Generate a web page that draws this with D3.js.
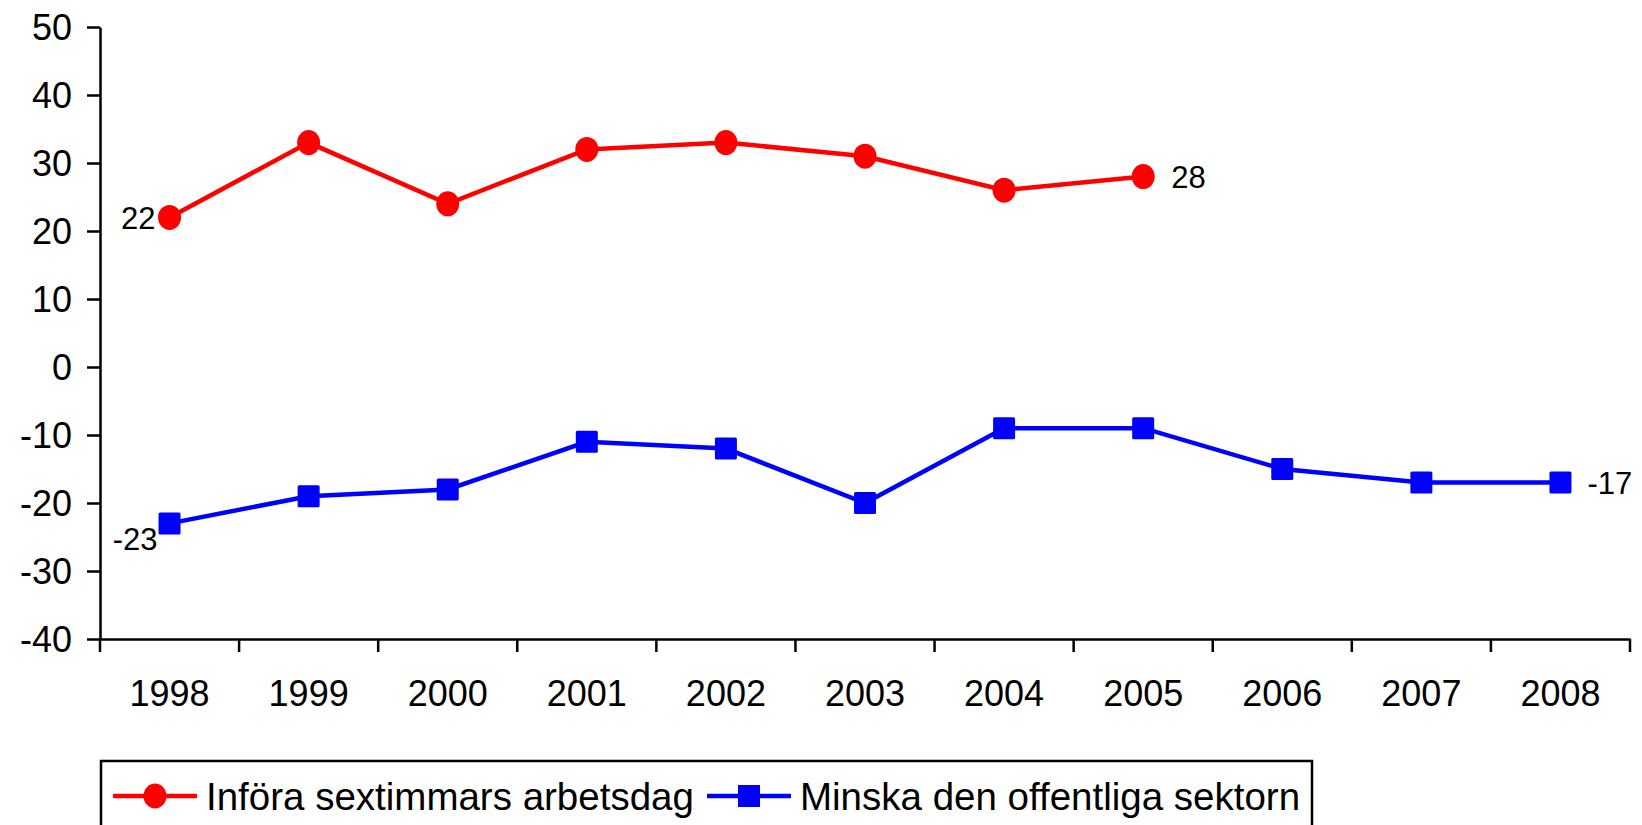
<!DOCTYPE html>
<html>
<head>
<meta charset="utf-8">
<script src="https://cdn.jsdelivr.net/npm/d3@7"></script>
<style>
  body { margin: 0; background: #fff; }
  svg { display: block; font-family: "Liberation Sans", Arial, sans-serif; }
  .axis path, .axis line { stroke: #000; stroke-width: 2.5px; }
  .axis text { fill: #000; font-size: 36px; }
</style>
</head>
<body>
<div id="chart"></div>
<script>
// datos
const years = ["1998","1999","2000","2001","2002","2003","2004","2005","2006","2007","2008"];
const sextimmar = [22, 33, 24, 32, 33, 31, 26, 28];           // 1998-2005
const offentliga = [-23, -19, -18, -11, -12, -20, -9, -9, -15, -17, -17];
const yTicks = [-40, -30, -20, -10, 0, 10, 20, 30, 40, 50];
const seriesNames = ["Införa sextimmars arbetsdag", "Minska den offentliga sektorn"];

const width = 1642, height = 825;

const svg = d3.select("#chart").append("svg")
  .attr("width", width)
  .attr("height", height);

const x = d3.scaleBand().domain(years).range([100, 1630]);
const y = d3.scaleLinear().domain([-40, 50]).range([639, 27]);
const cx = d => x(d) + x.bandwidth() / 2;

// eje y (guion normal, no signo menos)
svg.append("g")
  .attr("class", "axis")
  .attr("transform", "translate(100,0)")
  .call(d3.axisLeft(y).tickValues(yTicks).tickFormat(d => String(d))
    .tickSize(13).tickSizeOuter(0).tickPadding(15))
  .selectAll("text").attr("dy", "0.36em");

// eje x (etiquetas en el centro, marcas en los bordes)
const gx = svg.append("g")
  .attr("class", "axis")
  .attr("transform", `translate(0,${y(-40)})`)
  .call(d3.axisBottom(x).tickSize(0).tickSizeOuter(0).tickPadding(54));
gx.selectAll(".tick text").attr("dy", "0.36em");
gx.selectAll("line.edge")
  .data(years.map(d => x(d)).concat([x.range()[1]]))
  .enter().append("line")
    .attr("class", "edge")
    .attr("x1", d => d).attr("x2", d => d)
    .attr("y1", 0).attr("y2", 13);

const line = d3.line()
  .x((d, i) => cx(years[i]))
  .y(d => y(d));

// serie roja
svg.append("path")
  .attr("d", line(sextimmar))
  .attr("fill", "none")
  .attr("stroke", "#ff0000")
  .attr("stroke-width", 4.5);

svg.selectAll("ellipse.red")
  .data(sextimmar)
  .enter().append("ellipse")
    .attr("class", "red")
    .attr("cx", (d, i) => cx(years[i]))
    .attr("cy", d => y(d))
    .attr("rx", 11.5).attr("ry", 12.5)
    .attr("fill", "#ff0000");

// serie azul
svg.append("path")
  .attr("d", line(offentliga))
  .attr("fill", "none")
  .attr("stroke", "#0000ff")
  .attr("stroke-width", 4.5);

svg.selectAll("rect.blue")
  .data(offentliga)
  .enter().append("rect")
    .attr("class", "blue")
    .attr("x", (d, i) => cx(years[i]) - 11)
    .attr("y", d => y(d) - 11)
    .attr("width", 22).attr("height", 22)
    .attr("rx", 1.5)
    .attr("fill", "#0000ff");

// etiquetas de datos
const labels = [
  { t: sextimmar[0], x: cx(years[0]) - 14, y: y(sextimmar[0]), a: "end" },
  { t: sextimmar[7], x: cx(years[7]) + 28, y: y(sextimmar[7]), a: "start" },
  { t: offentliga[0], x: cx(years[0]) - 12, y: y(offentliga[0]) + 15, a: "end" },
  { t: offentliga[10], x: cx(years[10]) + 27, y: y(offentliga[10]), a: "start" }
];
svg.selectAll("text.lbl")
  .data(labels)
  .enter().append("text")
    .attr("class", "lbl")
    .attr("x", d => d.x).attr("y", d => d.y)
    .attr("dy", "0.36em")
    .attr("text-anchor", d => d.a)
    .attr("font-size", 31)
    .text(d => d.t);

// leyenda
const legend = svg.append("g");
legend.append("rect")
  .attr("x", 101).attr("y", 761)
  .attr("width", 1211).attr("height", 100)
  .attr("fill", "#fff")
  .attr("stroke", "#000")
  .attr("stroke-width", 2.5);

const items = [
  { name: seriesNames[0], color: "#ff0000", x0: 113, shape: "circle" },
  { name: seriesNames[1], color: "#0000ff", x0: 707, shape: "square" }
];
const ly = 796;
items.forEach(it => {
  legend.append("line")
    .attr("x1", it.x0).attr("x2", it.x0 + 84)
    .attr("y1", ly).attr("y2", ly)
    .attr("stroke", it.color).attr("stroke-width", 4.5);
  if (it.shape === "circle") {
    legend.append("ellipse")
      .attr("cx", it.x0 + 42).attr("cy", ly)
      .attr("rx", 11.5).attr("ry", 12.5)
      .attr("fill", it.color);
  } else {
    legend.append("rect")
      .attr("x", it.x0 + 42 - 11).attr("y", ly - 11)
      .attr("width", 22).attr("height", 22)
      .attr("fill", it.color);
  }
  legend.append("text")
    .attr("x", it.x0 + 93).attr("y", ly)
    .attr("dy", "0.36em")
    .attr("font-size", 38.5)
    .text(it.name);
});
</script>
</body>
</html>
